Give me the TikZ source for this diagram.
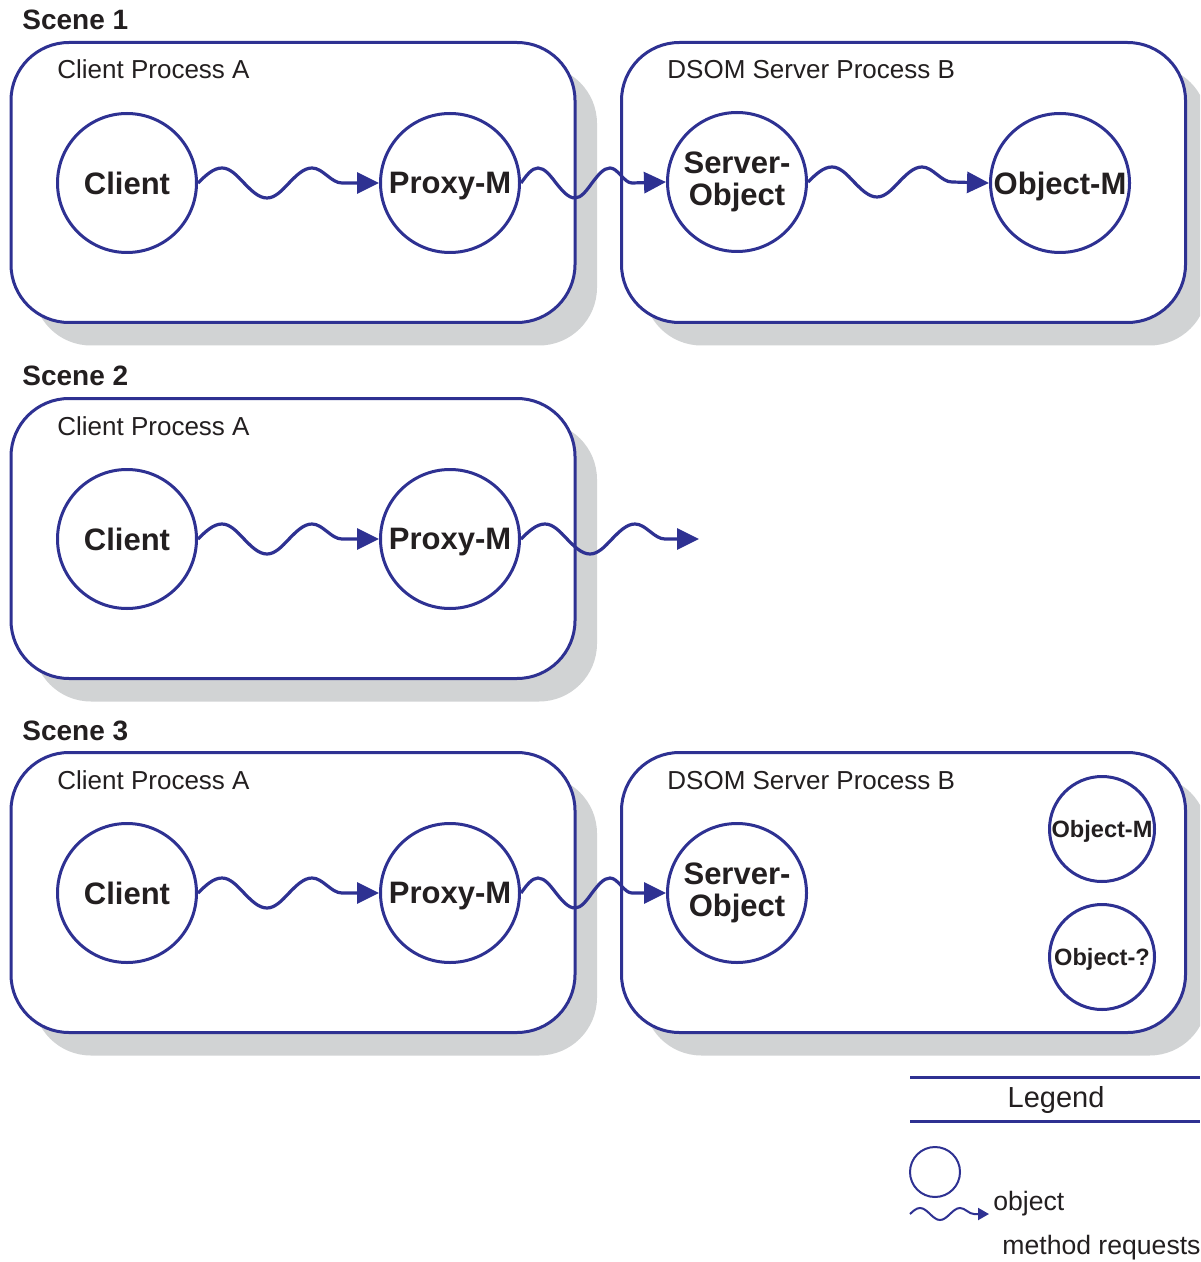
\documentclass[tikz,border=0pt]{standalone}
\usepackage{fontspec}
\setmainfont{Liberation Sans}
\usetikzlibrary{arrows.meta,shadows}
\definecolor{dsblue}{HTML}{2E3192}
\definecolor{shade}{HTML}{D1D3D4}
\definecolor{ink}{HTML}{231F20}
\tikzset{
  procbox/.style={draw=dsblue, line width=1.5pt, fill=white, rounded corners=29pt,
    minimum width=282pt, minimum height=140pt, inner sep=0pt,
    drop shadow={shadow xshift=11pt, shadow yshift=-11.5pt, fill=shade, opacity=1}},
  obj/.style={circle, draw=dsblue, line width=1.5pt, fill=white, minimum size=69.5pt,
    inner sep=0pt, text=ink, font=\bfseries\fontsize{15.5}{16}\selectfont},
  one/.style={text depth=0pt},
  two/.style={align=center},
  small/.style={minimum size=52.5pt, font=\bfseries\fontsize{11.8}{14}\selectfont},
  req/.style={draw=dsblue, line width=1.6pt, -{Triangle[length=11pt,width=10.5pt]}},
  reqsmall/.style={draw=dsblue, line width=1pt, -{Triangle[length=5.5pt,width=6pt]}},
  scene/.style={anchor=base west, inner sep=0pt, text=ink, font=\bfseries\fontsize{14}{16}\selectfont},
  boxlabel/.style={anchor=base west, inner sep=0pt, text=ink, font=\fontsize{13}{15}\selectfont},
  legtext/.style={anchor=base west, inner sep=0pt, text=ink, font=\fontsize{13.3}{15}\selectfont},
  legline/.style={draw=dsblue, line width=1.5pt},
}
\begin{document}
\begin{tikzpicture}[x=0.5pt,y=-0.5pt]
\clip (0,0) rectangle (1200,1262);
\fill[white] (0,0) rectangle (1200,1262);

% ---- Scene 1: full call chain ----
\node[scene] (t1) at (22,30) {Scene 1};
\node[procbox] (a1) at (293,182.5) {};
\node[procbox] (b1) at (903.5,182.5) {};
\node[boxlabel] (la1) at (57,79) {Client Process A};
\node[boxlabel] (lb1) at (667,79) {DSOM Server Process B};
\node[obj,one] (c1) at (127,183) {Client};
\node[obj,one] (p1) at (450,183) {Proxy-M};
\node[obj,two] (s1) at (737,182) {Server-\\Object};
\node[obj,one] (o1) at (1060,183) {Object-M};
\draw[req] (c1.east) sin ++(24,-15) cos ++(22,15) sin ++(23,15) cos ++(22,-15)
  sin ++(23,-15) cos ++(15,7.5) sin ++(15,7.5) -- (p1.west);
\draw[req] (p1.east) sin ++(17,-15) cos ++(18,15) sin ++(19,15) cos ++(17,-15)
  sin ++(18,-15) cos ++(11,7.5) sin ++(11,7.5) -- (s1.west);
\draw[req] (s1.east) sin ++(24,-15) cos ++(22,15) sin ++(23,15) cos ++(22,-15)
  sin ++(23,-15) cos ++(15,7.5) sin ++(15,7.5) -- (o1.west);

% ---- Scene 2: request leaves the client process ----
\begin{scope}[shift={(0,356)}]
\node[scene] (t2) at (22,30) {Scene 2};
\node[procbox] (a2) at (293,182.5) {};
\node[boxlabel] (la2) at (57,79) {Client Process A};
\node[obj,one] (c2) at (127,183) {Client};
\node[obj,one] (p2) at (450,183) {Proxy-M};
\coordinate (e2) at (699,183);
\draw[req] (c2.east) sin ++(24,-15) cos ++(22,15) sin ++(23,15) cos ++(22,-15)
  sin ++(23,-15) cos ++(15,7.5) sin ++(15,7.5) -- (p2.west);
\draw[req] (p2.east) sin ++(24,-15) cos ++(22,15) sin ++(23,15) cos ++(22,-15)
  sin ++(23,-15) cos ++(15,7.5) sin ++(15,7.5) -- (e2);
\end{scope}

% ---- Scene 3: server object with candidate targets ----
\begin{scope}[shift={(0,710)}]
\node[scene] (t3) at (22,30) {Scene 3};
\node[procbox] (a3) at (293,182.5) {};
\node[procbox] (b3) at (903.5,182.5) {};
\node[boxlabel] (la3) at (57,79) {Client Process A};
\node[boxlabel] (lb3) at (667,79) {DSOM Server Process B};
\node[obj,one] (c3) at (127,183) {Client};
\node[obj,one] (p3) at (450,183) {Proxy-M};
\node[obj,two] (s3) at (737,183) {Server-\\Object};
\node[obj,one,small] (om3) at (1102,119) {Object-M};
\node[obj,one,small] (oq3) at (1102,247) {Object-?};
\draw[req] (c3.east) sin ++(24,-15) cos ++(22,15) sin ++(23,15) cos ++(22,-15)
  sin ++(23,-15) cos ++(15,7.5) sin ++(15,7.5) -- (p3.west);
\draw[req] (p3.east) sin ++(17,-15) cos ++(18,15) sin ++(19,15) cos ++(17,-15)
  sin ++(18,-15) cos ++(11,7.5) sin ++(11,7.5) -- (s3.west);
\end{scope}

% ---- Legend ----
\draw[legline] (910,1077) -- (1200,1077);
\draw[legline] (910,1121) -- (1200,1121);
\node[anchor=base, inner sep=0pt, text=ink, font=\fontsize{14.5}{17}\selectfont] (lg) at (1056,1107) {Legend};
\node[circle, draw=dsblue, line width=1pt, minimum size=25pt, inner sep=0pt] (lc) at (935,1172) {};
\coordinate (lw0) at (910,1214);
\coordinate (lw1) at (989,1214);
\draw[reqsmall] (lw0) sin ++(10,-6) cos ++(10,6) sin ++(10,6) cos ++(10,-6)
  sin ++(10,-6) cos ++(7,3) sin ++(7,3) -- (lw1);
\node[legtext] (lo) at (993,1210) {object};
\node[legtext] (lm) at (1002,1254) {method requests};
\end{tikzpicture}
\end{document}
